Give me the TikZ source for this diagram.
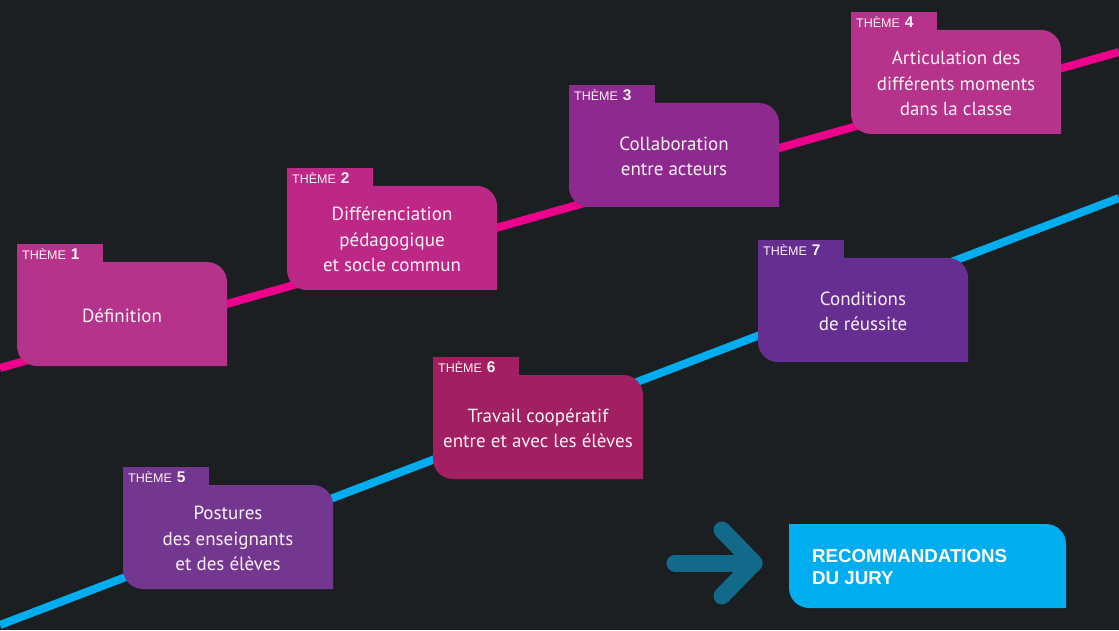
\documentclass[tikz,border=0pt]{standalone}
\usepackage{fontspec}
\setmainfont{PT Sans}
\newfontfamily\arialf{Liberation Sans}
\definecolor{bg}{HTML}{1B1F22}
\definecolor{pinkline}{HTML}{EC008C}
\definecolor{blueline}{HTML}{00AEEF}
\definecolor{cOne}{HTML}{B5338A}
\definecolor{cTwo}{HTML}{BD2886}
\definecolor{cThree}{HTML}{8E2A8F}
\definecolor{cFive}{HTML}{74378F}
\definecolor{cSix}{HTML}{A21F62}
\definecolor{cSeven}{HTML}{672E91}
\definecolor{arrowc}{HTML}{13698A}
\definecolor{reco}{HTML}{00AEEF}
\definecolor{softwhite}{HTML}{FBF1F7}
\tikzset{
  timeline/.style={line width=8pt},
  bodytext/.style={text=softwhite, align=center, inner sep=0pt, font=\fontsize{19}{25.5}\selectfont},
  tablabel/.style={text=softwhite, inner sep=0pt, anchor=base west, font=\arialf\fontsize{12.5}{14}\selectfont},
  arrowline/.style={draw=arrowc, line width=17pt, line cap=round, line join=round},
  recotext/.style={text=white, align=left, inner sep=0pt, anchor=north west, font=\arialf\bfseries\fontsize{18.7}{22}\selectfont}
}
\newcommand\themebox[6]{%
  \fill[#4] (#2,#3) rectangle ++(86,18);
  \fill[#4] (#2,#3) -- ++(190,0) arc[start angle=90,end angle=0,radius=20]
     -- ++(0,-84) -- ++(-190,0) arc[start angle=270,end angle=180,radius=20] -- cycle;
  \node[tablabel] (#1tab) at (#2+5,#3+2.5) {THÈME\hspace{5pt}{\fontsize{15.5}{16}\selectfont\bfseries #5}};
  \node[bodytext] (#1) at (#2+105,#3-53.5) {#6};
}
\begin{document}
\begin{tikzpicture}[x=1pt,y=1pt]
\useasboundingbox[fill=bg] (0,0) rectangle (1119,630);
% time lines
\coordinate (pA) at (0,262);
\coordinate (pB) at (1119,578);
\coordinate (bA) at (0,5);
\coordinate (bB) at (1119,432);
\draw[timeline, pinkline] (pA) -- (pB);
\draw[timeline, blueline] (bA) -- (bB);
% themes
\themebox{t1}{17}{368}{cOne}{1}{Définition}
\themebox{t2}{287}{444}{cTwo}{2}{Différenciation\\pédagogique\\et socle commun}
\themebox{t3}{569}{527}{cThree}{3}{Collaboration\\entre acteurs}
\themebox{t4}{851}{600}{cOne}{4}{Articulation des\\différents moments\\dans la classe}
\themebox{t5}{123}{145}{cFive}{5}{Postures\\des enseignants\\et des élèves}
\themebox{t6}{433}{255}{cSix}{6}{Travail coopératif\\entre et avec les élèves}
\themebox{t7}{758}{372}{cSeven}{7}{Conditions\\de réussite}
% arrow
\coordinate (aS) at (675,67);
\coordinate (aT) at (754,67);
\coordinate (aU) at (722,100);
\coordinate (aD) at (722,34);
\draw[arrowline] (aS) -- (aT);
\draw[arrowline] (aU) -- (aT) -- (aD);
% recommendations
\fill[reco] (789,106) -- (1046,106) arc[start angle=90,end angle=0,radius=20]
   -- (1066,22) -- (809,22) arc[start angle=270,end angle=180,radius=20] -- cycle;
\node[recotext] (rec) at (812,81) {RECOMMANDATIONS\\DU JURY};
\end{tikzpicture}
\end{document}
